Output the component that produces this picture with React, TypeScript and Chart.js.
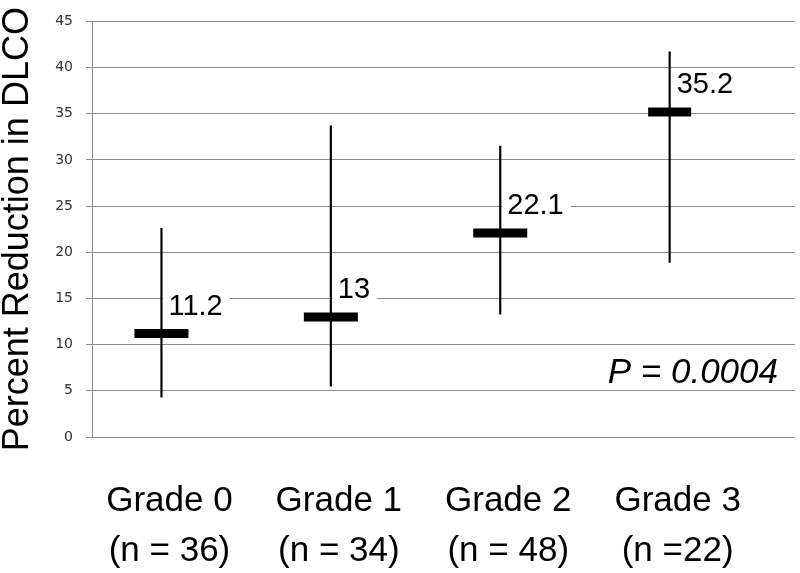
import React, { useEffect, useRef } from "react";
import { Chart, registerables } from "chart.js";

Chart.register(...registerables);

// ---- data ----
const categories = ["Grade 0", "Grade 1", "Grade 2", "Grade 3"];
const sampleSizes = ["(n = 36)", "(n = 34)", "(n = 48)", "(n =22)"];
const means = [11.2, 13, 22.1, 35.2];
const lows = [4.3, 5.5, 13.3, 18.9];
const highs = [22.6, 33.7, 31.5, 41.7];
const yMin = 0;
const yMax = 45;
const yStep = 5;
const yTitle = "Percent Reduction in DLCO";
const pValueText = "P = 0.0004";

const LABEL_FONT = '"Liberation Sans", Arial, sans-serif';

const annotationPlugin = {
  id: "meanLabels",
  afterDatasetsDraw(chart: any) {
    const { ctx, chartArea } = chart;
    const x = chart.scales.x;
    const y = chart.scales.y;
    ctx.save();
    ctx.font = `29px ${LABEL_FONT}`;
    ctx.textBaseline = "alphabetic";
    ctx.textAlign = "left";
    means.forEach((m, i) => {
      const px = x.getPixelForValue(i);
      const py = y.getPixelForValue(m);
      const text = String(m);
      const w = ctx.measureText(text).width;
      const tx = px + 7;
      const ty = py - 19;
      ctx.fillStyle = "#ffffff";
      ctx.fillRect(px + 2, ty - 24, tx + w + 7 - (px + 2), 29);
      ctx.fillStyle = "#000000";
      ctx.fillText(text, tx, ty);
    });
    ctx.font = `italic 35px ${LABEL_FONT}`;
    ctx.textAlign = "right";
    ctx.fillStyle = "#000000";
    ctx.fillText(pValueText, chartArea.right - 17, y.getPixelForValue(yMin) - 54);
    ctx.restore();
  },
};

export default function App() {
  const canvasRef = useRef<HTMLCanvasElement | null>(null);

  useEffect(() => {
    const canvas = canvasRef.current;
    if (!canvas) return;
    const meanHalfWidths = [27, 27, 27, 21.5];
    const chart = new Chart(canvas, {
      type: "bar",
      data: {
        datasets: [
          {
            type: "bar",
            label: "range",
            data: lows.map((l, i) => ({ x: i, y: [l, highs[i]] })) as any,
            backgroundColor: "#000000",
            borderWidth: 0,
            barThickness: 1.5,
          } as any,
          {
            type: "scatter",
            label: "mean",
            data: means.map((m, i) => ({ x: i, y: m })),
            pointStyle: "line",
            pointRadius: meanHalfWidths,
            pointHoverRadius: meanHalfWidths,
            pointBorderWidth: 9,
            pointHoverBorderWidth: 9,
            pointBorderColor: "#000000",
            pointBackgroundColor: "#000000",
            showLine: false,
          } as any,
        ],
      },
      options: {
        responsive: false,
        animation: false,
        events: [],
        layout: { autoPadding: false, padding: { top: 19, right: 5, left: 0, bottom: 0 } },
        plugins: {
          legend: { display: false },
          tooltip: { enabled: false },
          title: { display: false },
        },
        scales: {
          x: {
            type: "linear",
            offset: false,
            min: -0.41,
            max: 3.74,
            grid: { display: false },
            border: { display: false },
            afterBuildTicks: (scale: any) => {
              scale.ticks = categories.map((_, i) => ({ value: i }));
            },
            afterFit: (scale: any) => {
              scale.height = 136;
              scale.paddingLeft = 0;
              scale.paddingRight = 0;
            },
            ticks: {
              autoSkip: false,
              maxRotation: 0,
              minRotation: 0,
              padding: 31,
              labelOffset: 8,
              color: "#000000",
              font: { family: LABEL_FONT, size: 35, lineHeight: 1.43 },
              callback: (v: any) => {
                const i = Math.round(Number(v));
                return [categories[i], sampleSizes[i]];
              },
            },
          },
          y: {
            type: "linear",
            min: yMin,
            max: yMax,
            afterFit: (scale: any) => {
              scale.width = 92;
            },
            ticks: {
              stepSize: yStep,
              padding: 13,
              color: "#333333",
              font: { family: '"DejaVu Sans", Verdana, sans-serif', size: 14 },
            },
            grid: { color: "#8c8c8c", lineWidth: 1, tickLength: 6 },
            border: { display: true, color: "#8c8c8c", width: 1 },
            title: {
              display: true,
              text: yTitle,
              color: "#000000",
              font: { family: LABEL_FONT, size: 36, lineHeight: 1 },
              padding: { top: 0, bottom: 0 },
            },
          },
        },
      } as any,
      plugins: [annotationPlugin],
    });
    return () => chart.destroy();
  }, []);

  return (
    <div
      style={{
        position: "fixed",
        left: 0,
        top: 0,
        width: 800,
        height: 573,
        background: "#ffffff",
      }}
    >
      <canvas ref={canvasRef} width={800} height={573} style={{ display: "block" }} />
    </div>
  );
}
